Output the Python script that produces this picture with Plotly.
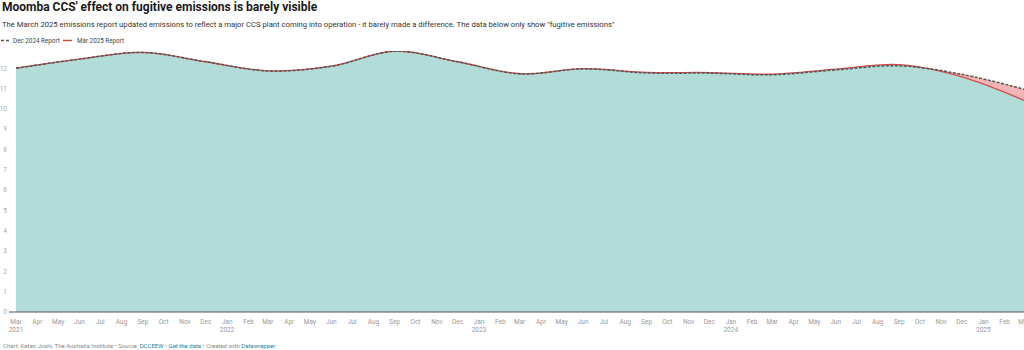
import plotly.graph_objects as go
import pandas as pd

# ---- data (quarterly, Mt CO2-e, fugitive emissions) ----
quarters = ["2021-03-01", "2021-06-01", "2021-09-01", "2021-12-01",
            "2022-03-01", "2022-06-01", "2022-09-01", "2022-12-01",
            "2023-03-01", "2023-06-01", "2023-09-01", "2023-12-01",
            "2024-03-01", "2024-06-01", "2024-09-01", "2024-12-01",
            "2025-03-01"]
dec_2024_report = [12.00, 12.45, 12.78, 12.32, 11.87, 12.10, 12.84, 12.32,
                   11.73, 11.97, 11.77, 11.76, 11.68, 11.92, 12.12, 11.70, 10.97]
mar_2025_report = [12.00, 12.45, 12.78, 12.32, 11.87, 12.10, 12.84, 12.32,
                   11.73, 11.98, 11.80, 11.79, 11.71, 11.96, 12.18, 11.58, 10.42]

y_ticks = list(range(0, 13))
month_abbr = ["Jan", "Feb", "Mar", "Apr", "May", "Jun",
              "Jul", "Aug", "Sep", "Oct", "Nov", "Dec"]
tick_dates = pd.date_range("2021-03-01", "2025-03-01", freq="MS")
tick_text = []
for i, d in enumerate(tick_dates):
    lab = month_abbr[d.month - 1]
    if d.month == 1 or i == 0:
        lab += "<br>" + str(d.year)
    tick_text.append(lab)

title = "Moomba CCS' effect on fugitive emissions is barely visible"
subtitle = ("The March 2025 emissions report updated emissions to reflect a major CCS plant "
            "coming into operation - it barely made a difference. The data below only show "
            "\"fugitive emissions\"")

TEAL = "#b2dcd8"
RED = "#d64c4c"
PINK = "#f3b5b5"
DARK = "#555555"
FONT = "Roboto"

W, H = 1024, 350
L, R, T, B = 16, 0, 51, 38
PW, PH = W - L - R, H - T - B


def px(x):
    return (x - L) / PW


def py(y):
    return (H - B - y) / PH


fig = go.Figure()
# pink gap area (Dec 2024 report), covered by teal where the new report is higher
fig.add_trace(go.Scatter(x=quarters, y=dec_2024_report, mode="lines",
                         line=dict(width=0, shape="spline", smoothing=1),
                         fill="tozeroy", fillcolor=PINK, hoverinfo="skip",
                         showlegend=False))
fig.add_trace(go.Scatter(x=quarters, y=mar_2025_report, mode="lines",
                         line=dict(width=0, shape="spline", smoothing=1),
                         fill="tozeroy", fillcolor=TEAL, hoverinfo="skip",
                         showlegend=False))
fig.add_trace(go.Scatter(x=quarters, y=mar_2025_report, mode="lines",
                         name="Mar 2025 Report",
                         line=dict(width=1.3, color=RED, shape="spline", smoothing=1),
                         showlegend=False))
fig.add_trace(go.Scatter(x=quarters, y=dec_2024_report, mode="lines",
                         name="Dec 2024 Report",
                         line=dict(width=1.5, color=DARK, dash="3px,1.5px",
                                   shape="spline", smoothing=1),
                         showlegend=False))

annotations = [
    dict(text="<b>" + title + "</b>", x=px(0), y=py(7.5), xanchor="left", yanchor="middle",
         font=dict(family=FONT, size=12, color="#1a1a1a")),
    dict(text=subtitle, x=px(0), y=py(24.5), xanchor="left", yanchor="middle",
         font=dict(family=FONT, size=7.7, color="#333333")),
    dict(text="Dec 2024 Report", x=px(11), y=py(40.5), xanchor="left", yanchor="middle",
         font=dict(family=FONT, size=6.3, color="#444444")),
    dict(text="Mar 2025 Report", x=px(75), y=py(40.5), xanchor="left", yanchor="middle",
         font=dict(family=FONT, size=6.3, color="#444444")),
    dict(text=("Chart: Ketan Joshi, The Australia Institute • Source: "
               "<span style='color:#1d81a2'>DCCEEW</span> • "
               "<span style='color:#1d81a2'>Get the data</span> • Created with "
               "<span style='color:#1d81a2'>Datawrapper</span>"),
         x=px(1), y=py(345.5), xanchor="left", yanchor="middle",
         font=dict(family=FONT, size=6, color="#888888")),
]
for a in annotations:
    a.update(xref="paper", yref="paper", showarrow=False, align="left")

shapes = [
    dict(type="line", xref="paper", yref="paper", x0=px(1), x1=px(9), y0=py(40.5), y1=py(40.5),
         line=dict(color=DARK, width=1.5, dash="3px,2px")),
    dict(type="line", xref="paper", yref="paper", x0=px(63), x1=px(72), y0=py(40.5), y1=py(40.5),
         line=dict(color=RED, width=1.5)),
    dict(type="line", xref="paper", yref="paper", x0=px(9), x1=1, y0=0, y1=0,
         line=dict(color="#555555", width=1)),
]

fig.update_layout(
    width=W, height=H,
    margin=dict(l=L, r=R, t=T, b=B, autoexpand=False),
    paper_bgcolor="white", plot_bgcolor="white",
    font=dict(family=FONT),
    annotations=annotations,
    shapes=shapes,
    showlegend=False,
    xaxis=dict(range=["2021-03-01", "2025-03-01"], tickvals=list(tick_dates),
               ticktext=tick_text, showgrid=False, zeroline=False, showline=False,
               ticks="", ticklabelstandoff=4, ticklabeloverflow="allow",
               automargin=False,
               tickfont=dict(family=FONT, size=6.5, color="#999999")),
    yaxis=dict(range=[0, 12.85], tickvals=y_ticks, showgrid=False, zeroline=False,
               showline=False, ticks="", ticklabelstandoff=8, automargin=False,
               tickfont=dict(family=FONT, size=6.5, color="#aaaaaa")),
)

fig.write_html("out.html", config={"displayModeBar": False})
